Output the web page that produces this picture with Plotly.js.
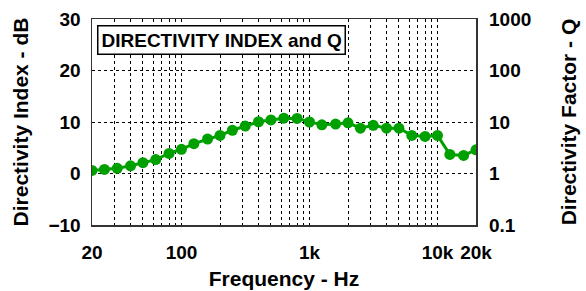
<!DOCTYPE html>
<html>
<head>
<meta charset="utf-8">
<script src="https://cdn.plot.ly/plotly-3.0.1.min.js"></script>
<style>html,body{margin:0;padding:0;background:#fff;}#chart{width:586px;height:291px;}</style>
</head>
<body>
<div id="chart"></div>
<script>
// 1/3-octave frequencies (Hz)
var freqs = [20, 25, 31.5, 40, 50, 63, 80, 100, 125, 160, 200, 250, 315, 400, 500, 630, 800,
             1000, 1250, 1600, 2000, 2500, 3150, 4000, 5000, 6300, 8000, 10000, 12500, 16000, 20000];
// Directivity index (dB)
var directivityIndex = [0.6, 0.8, 1.0, 1.5, 2.1, 2.7, 3.9, 4.7, 5.8, 6.7, 7.4, 8.4, 9.2, 10.05, 10.4, 10.75, 10.7,
                        10.0, 9.45, 9.6, 9.85, 8.8, 9.35, 8.8, 8.8, 7.4, 7.2, 7.4, 3.7, 3.5, 4.6];
// x-axis grid values and labels
var xGridVals = [20, 30, 40, 50, 60, 70, 80, 90, 100, 200, 300, 400, 500, 600, 700, 800, 900,
                 1000, 2000, 3000, 4000, 5000, 6000, 7000, 8000, 9000, 10000, 20000];
var xLabelMap = {20: '20', 100: '100', 1000: '1k', 10000: '10k', 20000: '20k'};
var diTicks = [-10, 0, 10, 20, 30];
var qTicks = [0.1, 1, 10, 100, 1000];
var qTickText = ['0.1', '1', '10', '100', '1000'];
var chartTitle = 'DIRECTIVITY INDEX and Q';

var xTickText = xGridVals.map(function (v) { return xLabelMap[v] || ''; });
var qValues = directivityIndex.map(function (d) { return Math.pow(10, d / 10); });

var green = '#00a000';
var fontFam = 'Arial, "Liberation Sans", sans-serif';

var traces = [
  {
    x: freqs, y: directivityIndex, type: 'scatter', mode: 'lines+markers',
    line: {color: green, width: 3}, marker: {color: green, size: 11},
    xaxis: 'x', yaxis: 'y', showlegend: false, hoverinfo: 'x+y'
  },
  {
    x: freqs, y: qValues, type: 'scatter', mode: 'lines',
    line: {color: green, width: 0}, opacity: 0,
    xaxis: 'x', yaxis: 'y2', showlegend: false, hoverinfo: 'skip'
  }
];

var tickFont = {family: fontFam, size: 19, color: '#000', weight: 'bold'};
var titleFont = {family: fontFam, size: 21, color: '#000', weight: 'bold'};

var layout = {
  width: 586, height: 291,
  margin: {l: 92, r: 110, t: 19, b: 66, pad: 0},
  paper_bgcolor: '#fff', plot_bgcolor: '#fff',
  showlegend: false,
  xaxis: {
    type: 'log', range: [Math.log10(20), Math.log10(20000)],
    tickmode: 'array', tickvals: xGridVals, ticktext: xTickText,
    showgrid: true, gridcolor: '#000', griddash: 'dot', gridwidth: 1,
    showline: true, linecolor: '#333', linewidth: 1.5, mirror: true,
    ticks: '', ticklabelstandoff: 10, zeroline: false,
    tickfont: tickFont,
    title: {text: 'Frequency - Hz', font: titleFont, standoff: 9}
  },
  yaxis: {
    range: [-10, 30], tickmode: 'array', tickvals: diTicks,
    showgrid: true, gridcolor: '#000', griddash: 'dot', gridwidth: 1,
    showline: true, linecolor: '#333', linewidth: 1.5, mirror: true,
    ticks: '', ticklabelstandoff: 6, zeroline: false,
    tickfont: tickFont,
    title: {text: 'Directivity Index - dB', font: titleFont, standoff: 14}
  },
  yaxis2: {
    type: 'log', range: [-1, 3], overlaying: 'y', side: 'right',
    tickmode: 'array', tickvals: qTicks, ticktext: qTickText,
    showgrid: false, zeroline: false, showline: false,
    ticks: '', ticklabelstandoff: 12,
    tickfont: tickFont,
    title: {text: 'Directivity Factor - Q', font: titleFont, standoff: 31}
  },
  annotations: [{
    xref: 'paper', yref: 'paper', x: 0.013, y: 0.97, xanchor: 'left', yanchor: 'top',
    text: chartTitle, showarrow: false,
    font: {family: fontFam, size: 19, color: '#000', weight: 'bold'},
    bgcolor: '#fff', bordercolor: '#000', borderwidth: 1.5, borderpad: 3
  }]
};

Plotly.newPlot('chart', traces, layout, {displayModeBar: false, staticPlot: true});
</script>
</body>
</html>
